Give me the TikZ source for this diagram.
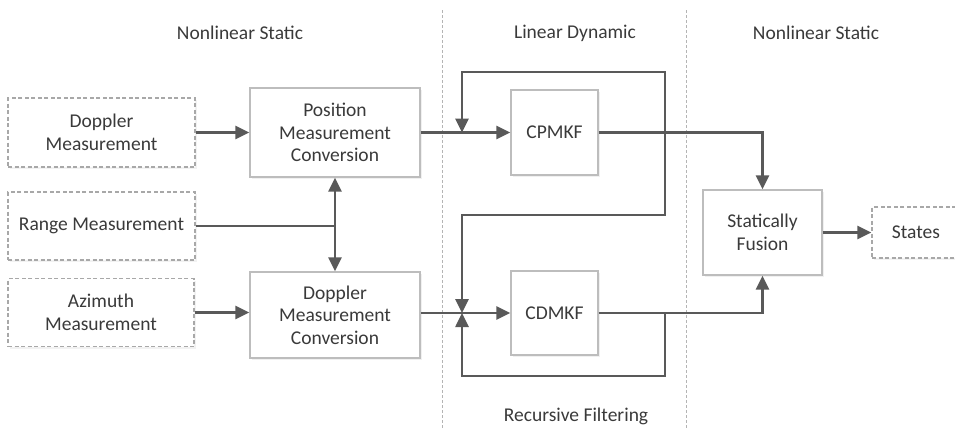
\documentclass[tikz,border=0pt]{standalone}
\usepackage{fontspec}
\setmainfont{Carlito}
\usetikzlibrary{arrows.meta,shadows,calc}
\definecolor{linegray}{HTML}{595959}
\definecolor{boxgray}{HTML}{BDBDBD}
\definecolor{dashgray}{HTML}{A8A8A8}
\definecolor{txtgray}{HTML}{3A3A3A}
\definecolor{sepgray}{HTML}{B4B4B4}
\tikzset{
  every node/.style={font=\fontsize{19.5}{22.5}\selectfont, text=txtgray},
  solidbox/.style={draw=boxgray, line width=1.3pt, fill=white, align=center,
    inner sep=0pt, drop shadow={opacity=0.12, shadow xshift=2pt, shadow yshift=-2pt}},
  dashbox/.style={draw=dashgray, line width=1.2pt, dash pattern=on 4pt off 2.5pt, fill=white, align=center,
    inner sep=0pt, drop shadow={opacity=0.10, shadow xshift=2pt, shadow yshift=-2pt}},
  conn/.style={draw=linegray, line width=2.6pt},
  arr/.style={conn, -{Triangle[length=14pt,width=13pt]}},
  sep/.style={draw=sepgray, line width=1pt, dash pattern=on 3pt off 2pt},
  lbl/.style={font=\fontsize{19.5}{22.5}\selectfont, text=txtgray}
}
\begin{document}
\begin{tikzpicture}[x=1pt,y=-1pt]
\useasboundingbox (0,0) rectangle (955,429);
% separators
\draw[sep] (442,10) coordinate (s1t) -- (442,429) coordinate (s1b);
\draw[sep] (686,10) coordinate (s2t) -- (686,429) coordinate (s2b);
% section labels
\node[lbl] (l1) at (240,33) {Nonlinear Static};
\node[lbl] (l2) at (575,33) {Linear Dynamic};
\node[lbl] (l3) at (816,33) {Nonlinear Static};
\node[lbl] (l4) at (576,416) {Recursive Filtering};
% input boxes
\node[dashbox, minimum width=187pt, minimum height=69pt] (dop) at (101.5,132.5) {Doppler\\Measurement};
\node[dashbox, minimum width=187pt, minimum height=68pt] (rng) at (101.5,226) {Range Measurement};
\node[dashbox, minimum width=186pt, minimum height=68pt] (azi) at (101,312.5) {Azimuth\\Measurement};
% conversion boxes
\node[solidbox, minimum width=170pt, minimum height=89pt] (pmc) at (335,132.5) {Position\\Measurement\\Conversion};
\node[solidbox, minimum width=170pt, minimum height=86pt] (dmc) at (335,315) {Doppler\\Measurement\\Conversion};
% filters
\node[solidbox, minimum width=87pt, minimum height=85pt] (cpm) at (554.5,132.5) {CPMKF};
\node[solidbox, minimum width=87pt, minimum height=84pt] (cdm) at (554.5,313) {CDMKF};
% fusion and states
\node[solidbox, minimum width=119pt, minimum height=85pt] (fus) at (762.5,232.5) {Statically\\Fusion};
\node[dashbox, minimum width=88pt, minimum height=51pt] (sts) at (916,232.5) {States};
% coordinates
\coordinate (jR) at (335,226);
\coordinate (jA) at (462,132.5);
\coordinate (jB) at (462,313);
\coordinate (sA) at (665,132.5);
\coordinate (sB) at (665,313);
\coordinate (ytop) at (0,72);
\coordinate (ymid) at (0,215);
\coordinate (ybot) at (0,376);
% connectors
\draw[arr] (dop.east) -- (pmc.west);
\draw[conn] (rng.east) -- (jR);
\draw[arr] (jR) -- (pmc.south);
\draw[arr] (jR) -- (dmc.north);
\draw[arr] (azi.east) -- (azi.east -| dmc.west);
\draw[arr] (pmc.east) -- (cpm.west);
\draw[arr] (dmc.east |- cdm.west) -- (cdm.west);
\draw[arr] (sA) -- (sA |- ytop) -| (jA);
\draw[arr] (sA) -- (sA |- ymid) -| (jB);
\draw[arr] (sB) -- (sB |- ybot) -| (jB);
\draw[arr] (cpm.east) -| (fus.north);
\draw[arr] (cdm.east) -| (fus.south);
\draw[arr] (fus.east) -- (sts.west);
\end{tikzpicture}
\end{document}
